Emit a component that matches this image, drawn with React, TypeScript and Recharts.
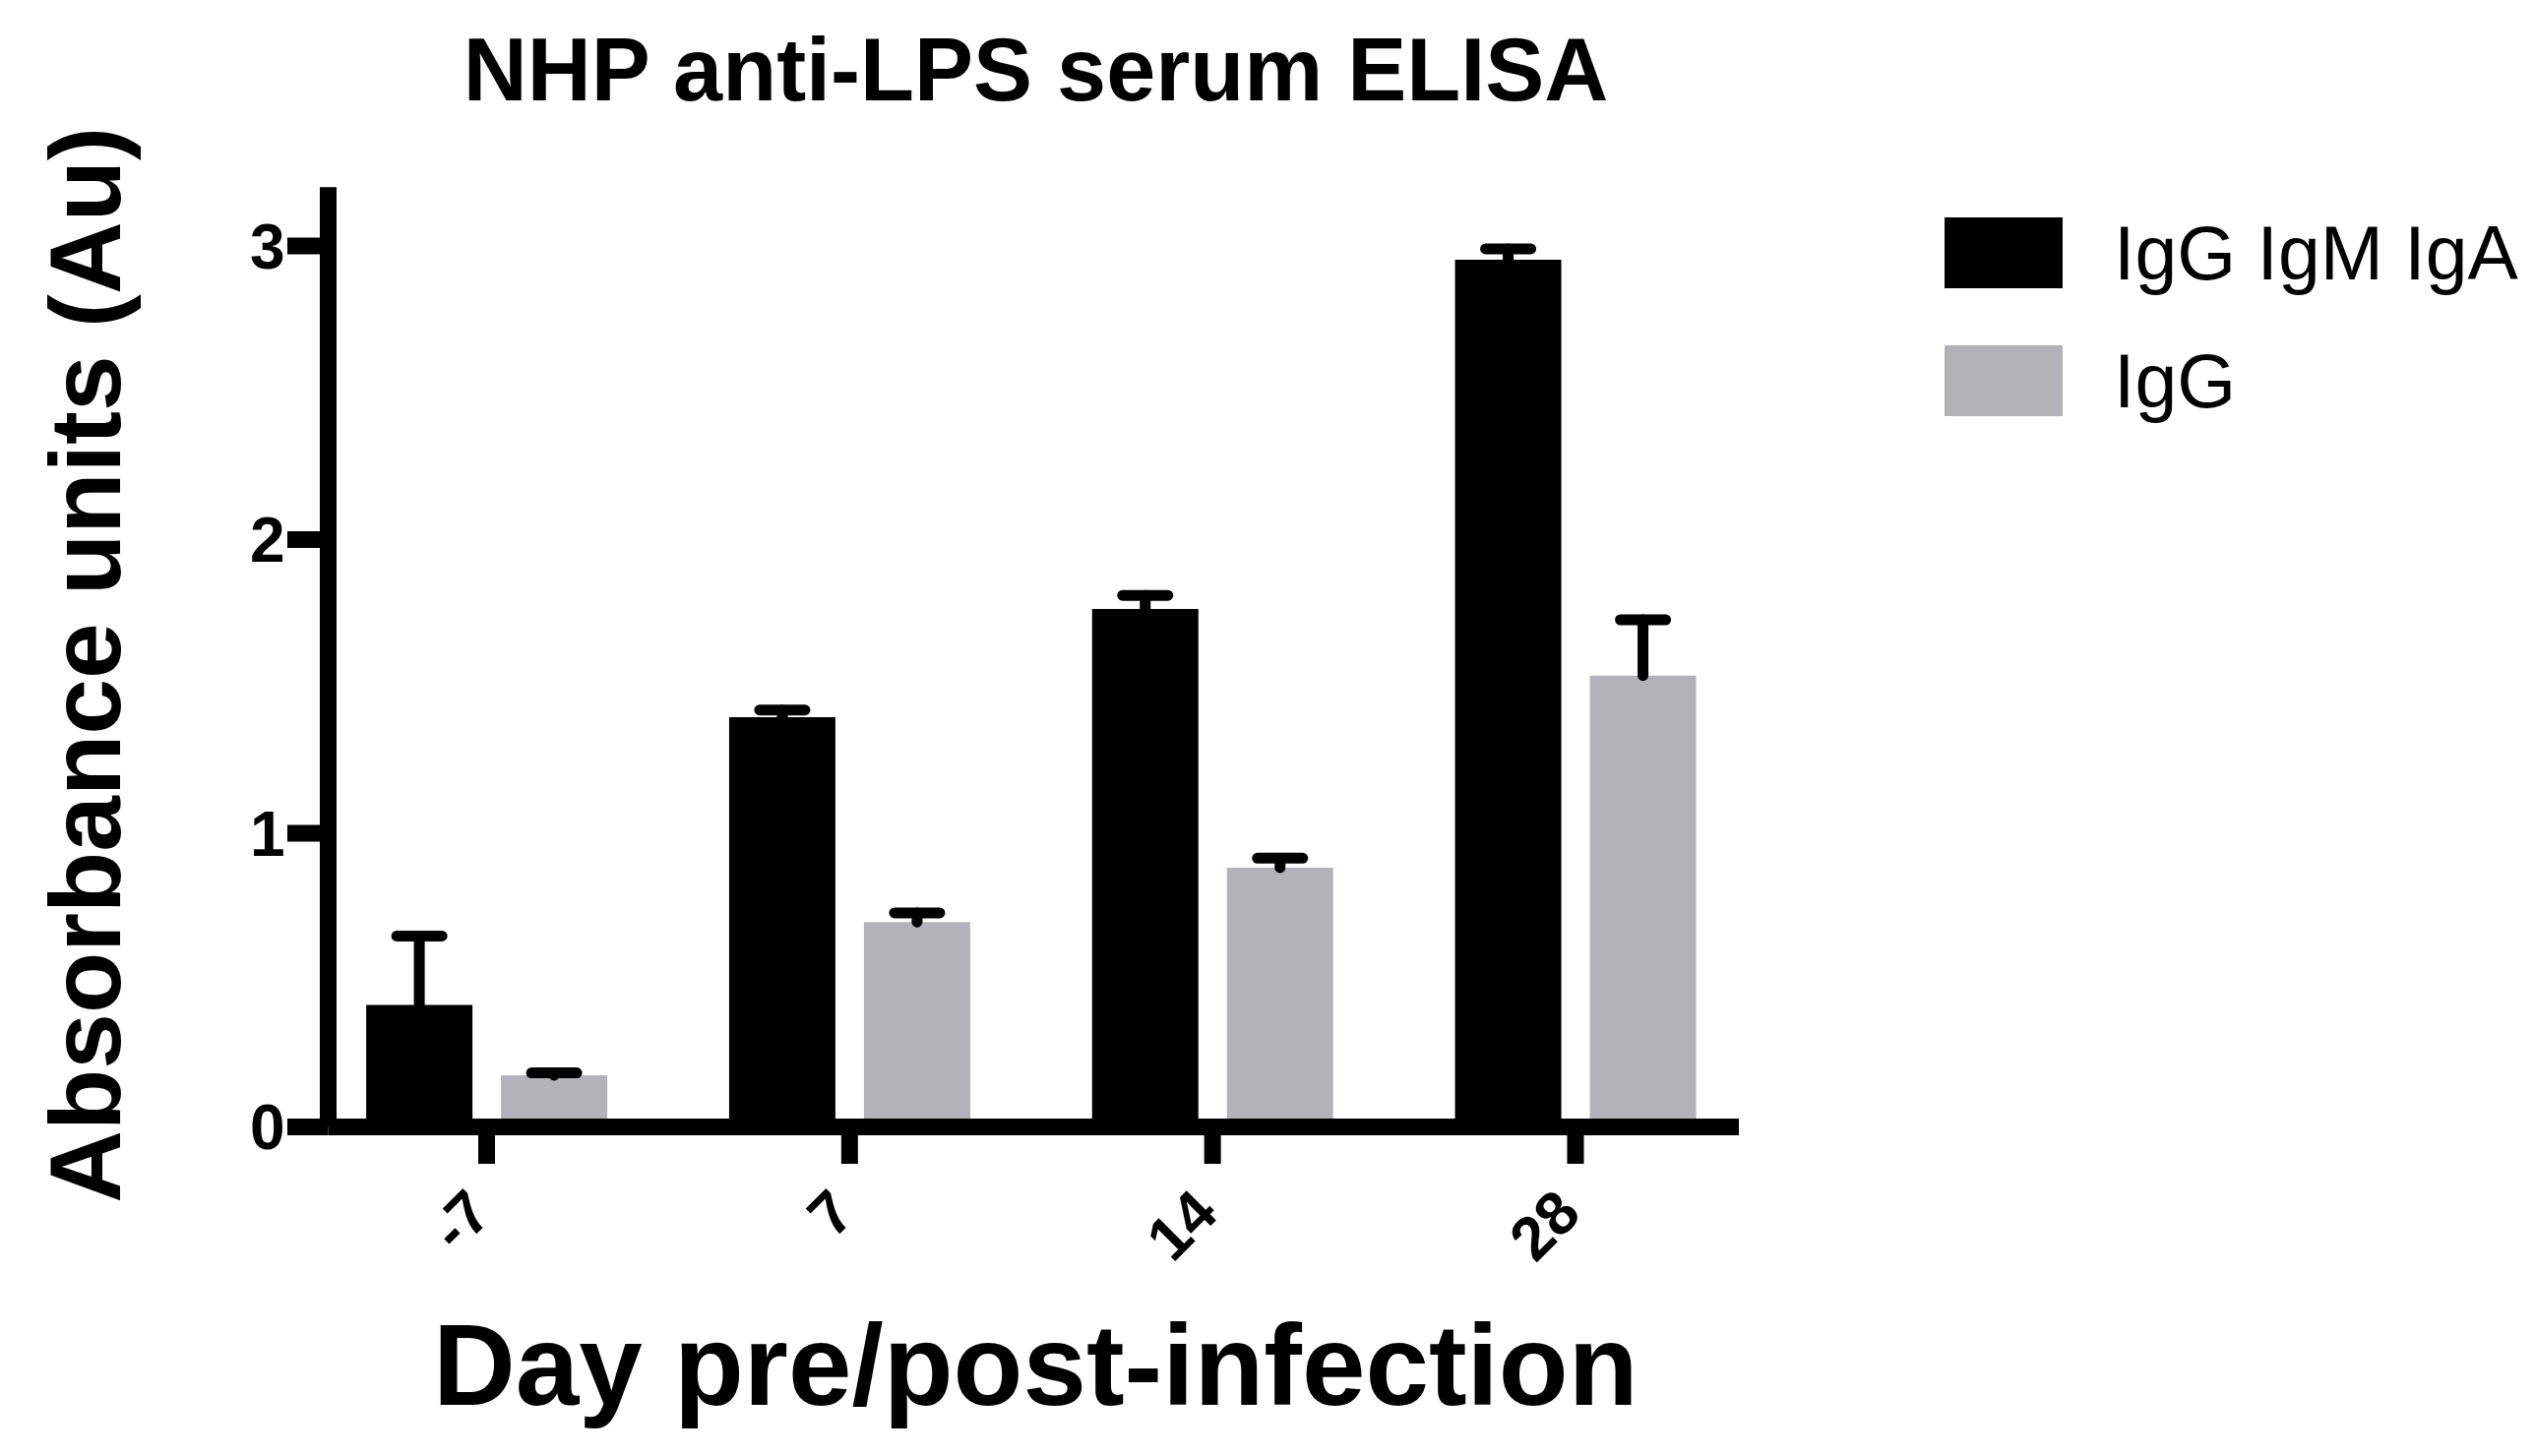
import React from 'react';
import { BarChart, Bar, XAxis, YAxis, ErrorBar, Legend, Label } from 'recharts';

const FONT = '"Liberation Sans", Arial, Helvetica, sans-serif';

// days relative to infection
const days = ['-7', '7', '14', '28'];
const seriesNames = ['IgG IgM IgA', 'IgG'];
// mean absorbance, IgG IgM IgA (total Ig) and IgG only
const totalIgMean = [0.415, 1.395, 1.764, 2.953];
const totalIgSem = [0.235, 0.025, 0.046, 0.037];
const iggMean = [0.176, 0.698, 0.883, 1.537];
const iggSem = [0.008, 0.031, 0.032, 0.19];
const yTicks = [0, 1, 2, 3];

const data = days.map((day, i) => ({
  day,
  total: totalIgMean[i],
  totalErr: [0, totalIgSem[i]],
  igg: iggMean[i],
  iggErr: [0, iggSem[i]],
}));

const DayTick = ({ x, y, payload }: any) => {
  const tx = x + 8;
  const ty = y + 53;
  return (
    <text
      x={tx}
      y={ty}
      transform={`rotate(-45, ${tx}, ${ty})`}
      textAnchor="end"
      fontSize={62}
      fontWeight="bold"
      fontFamily={FONT}
      fill="#000"
    >
      {payload.value}
    </text>
  );
};

// keep the legend in series order (recharts sorts by name otherwise)
const renderLegend = ({ payload }: any) => {
  const items = [...(payload || [])].sort(
    (a: any, b: any) => seriesNames.indexOf(a.value) - seriesNames.indexOf(b.value)
  );
  return (
    <div>
      {items.map((entry: any) => (
        <div key={entry.value} style={{ display: 'flex', alignItems: 'center', height: 130 }}>
          <div style={{ width: 120, height: 72, background: entry.color }} />
          <span style={{ marginLeft: 52, fontSize: 77, lineHeight: 1, fontFamily: FONT, color: '#000' }}>
            {entry.value}
          </span>
        </div>
      ))}
    </div>
  );
};

export default function App() {
  return (
    <div style={{ position: 'relative', width: 2559, height: 1464, background: '#fff' }}>
      <style>{'.recharts-errorBar line:nth-of-type(3){display:none}'}</style>
      <div
        style={{
          position: 'absolute',
          left: 44.5,
          top: 18,
          width: 2000,
          textAlign: 'center',
          fontFamily: FONT,
          fontWeight: 'bold',
          fontSize: 90,
          lineHeight: 1,
          color: '#000',
        }}
      >
        NHP anti-LPS serum ELISA
      </div>
      <BarChart
        width={2559}
        height={1464}
        data={data}
        margin={{ top: 182.3, right: 800, bottom: 126.5, left: 0 }}
        barSize={108}
        barGap={29}
      >
        <Bar dataKey="total" name={seriesNames[0]} fill="#000000" isAnimationActive={false}>
          <ErrorBar dataKey="totalErr" width={23} stroke="#000" strokeWidth={11} strokeLinecap="round" />
        </Bar>
        <Bar dataKey="igg" name={seriesNames[1]} fill="#b1b3b6" isAnimationActive={false}>
          <ErrorBar dataKey="iggErr" width={23} stroke="#000" strokeWidth={11} strokeLinecap="round" />
        </Bar>
        <XAxis
          dataKey="day"
          height={200}
          padding={{ left: -23.4, right: -18.4 }}
          axisLine={{ stroke: '#000', strokeWidth: 17 }}
          tickLine={{ stroke: '#000', strokeWidth: 17 }}
          tickSize={37.5}
          tickMargin={0}
          tick={<DayTick />}
          interval={0}
        >
          <Label
            content={({ viewBox }: any) => (
              <text
                x={viewBox.x + viewBox.width / 2 + 2}
                y={viewBox.y + 282.5}
                textAnchor="middle"
                fontSize={116}
                fontWeight="bold"
                fontFamily={FONT}
                fill="#000"
              >
                Day pre/post-infection
              </text>
            )}
          />
        </XAxis>
        <YAxis
          width={325.5}
          domain={[0, 3.2]}
          ticks={yTicks}
          interval={0}
          axisLine={{ stroke: '#000', strokeWidth: 17 }}
          tickLine={{ stroke: '#000', strokeWidth: 17 }}
          tickSize={41.5}
          tickMargin={2.5}
          tick={{ fontSize: 64, fontWeight: 'bold', fill: '#000', fontFamily: FONT }}
        >
          <Label
            content={({ viewBox }: any) => {
              const cx = viewBox.x + 114;
              const cy = viewBox.y + viewBox.height / 2 + 8;
              return (
                <text
                  x={cx}
                  y={cy}
                  transform={`rotate(-90, ${cx}, ${cy})`}
                  textAnchor="middle"
                  fontSize={102}
                  fontWeight="bold"
                  fontFamily={FONT}
                  fill="#000"
                >
                  Absorbance units (Au)
                </text>
              );
            }}
          />
        </YAxis>
        <Legend
          layout="horizontal"
          align="center"
          verticalAlign="middle"
          content={renderLegend}
          wrapperStyle={{ left: 1968, top: 184, width: 'auto', height: 'auto' }}
        />
      </BarChart>
    </div>
  );
}
